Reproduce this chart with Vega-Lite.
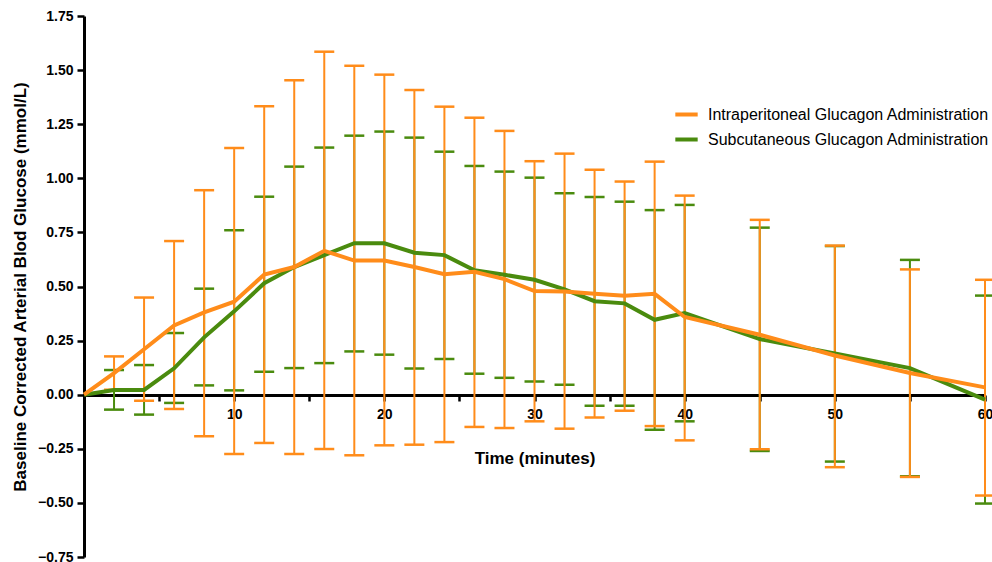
{
  "$schema": "https://vega.github.io/schema/vega-lite/v6.json",
  "width": 901,
  "height": 541,
  "autosize": {"type": "none"},
  "padding": {"left": 84, "top": 16, "right": 7, "bottom": 5},
  "background": "white",
  "config": {
    "view": {"stroke": null},
    "font": "Liberation Sans",
    "tick": {"opacity": 1},
    "axis": {"grid": false, "domainColor": "black", "tickColor": "black", "labelColor": "black", "titleColor": "black", "labelFont": "Liberation Sans", "titleFont": "Liberation Sans", "labelFontWeight": "bold", "titleFontWeight": "bold"}
  },
  "data": {
    "values": [
      {"group": "Intraperitoneal Glucagon Administration", "time": 0, "mean": 0, "lower": null, "upper": null},
      {"group": "Intraperitoneal Glucagon Administration", "time": 2, "mean": 0.10, "lower": 0.023, "upper": 0.177},
      {"group": "Intraperitoneal Glucagon Administration", "time": 4, "mean": 0.21, "lower": -0.028, "upper": 0.449},
      {"group": "Intraperitoneal Glucagon Administration", "time": 6, "mean": 0.32, "lower": -0.066, "upper": 0.71},
      {"group": "Intraperitoneal Glucagon Administration", "time": 8, "mean": 0.38, "lower": -0.192, "upper": 0.945},
      {"group": "Intraperitoneal Glucagon Administration", "time": 10, "mean": 0.43, "lower": -0.274, "upper": 1.14},
      {"group": "Intraperitoneal Glucagon Administration", "time": 12, "mean": 0.555, "lower": -0.223, "upper": 1.333},
      {"group": "Intraperitoneal Glucagon Administration", "time": 14, "mean": 0.59, "lower": -0.274, "upper": 1.453},
      {"group": "Intraperitoneal Glucagon Administration", "time": 16, "mean": 0.665, "lower": -0.251, "upper": 1.585},
      {"group": "Intraperitoneal Glucagon Administration", "time": 18, "mean": 0.62, "lower": -0.28, "upper": 1.52},
      {"group": "Intraperitoneal Glucagon Administration", "time": 20, "mean": 0.62, "lower": -0.234, "upper": 1.479},
      {"group": "Intraperitoneal Glucagon Administration", "time": 22, "mean": 0.59, "lower": -0.231, "upper": 1.408},
      {"group": "Intraperitoneal Glucagon Administration", "time": 24, "mean": 0.557, "lower": -0.219, "upper": 1.331},
      {"group": "Intraperitoneal Glucagon Administration", "time": 26, "mean": 0.568, "lower": -0.149, "upper": 1.28},
      {"group": "Intraperitoneal Glucagon Administration", "time": 28, "mean": 0.534, "lower": -0.154, "upper": 1.219},
      {"group": "Intraperitoneal Glucagon Administration", "time": 30, "mean": 0.479, "lower": -0.123, "upper": 1.079},
      {"group": "Intraperitoneal Glucagon Administration", "time": 32, "mean": 0.477, "lower": -0.157, "upper": 1.114},
      {"group": "Intraperitoneal Glucagon Administration", "time": 34, "mean": 0.466, "lower": -0.105, "upper": 1.039},
      {"group": "Intraperitoneal Glucagon Administration", "time": 36, "mean": 0.457, "lower": -0.074, "upper": 0.985},
      {"group": "Intraperitoneal Glucagon Administration", "time": 38, "mean": 0.466, "lower": -0.145, "upper": 1.077},
      {"group": "Intraperitoneal Glucagon Administration", "time": 40, "mean": 0.359, "lower": -0.211, "upper": 0.92},
      {"group": "Intraperitoneal Glucagon Administration", "time": 45, "mean": 0.277, "lower": -0.252, "upper": 0.808},
      {"group": "Intraperitoneal Glucagon Administration", "time": 50, "mean": 0.181, "lower": -0.335, "upper": 0.689},
      {"group": "Intraperitoneal Glucagon Administration", "time": 55, "mean": 0.10, "lower": -0.38, "upper": 0.579},
      {"group": "Intraperitoneal Glucagon Administration", "time": 60, "mean": 0.034, "lower": -0.466, "upper": 0.531},
      {"group": "Subcutaneous Glucagon Administration", "time": 0, "mean": 0, "lower": null, "upper": null},
      {"group": "Subcutaneous Glucagon Administration", "time": 2, "mean": 0.022, "lower": -0.069, "upper": 0.114},
      {"group": "Subcutaneous Glucagon Administration", "time": 4, "mean": 0.022, "lower": -0.092, "upper": 0.137},
      {"group": "Subcutaneous Glucagon Administration", "time": 6, "mean": 0.122, "lower": -0.038, "upper": 0.285},
      {"group": "Subcutaneous Glucagon Administration", "time": 8, "mean": 0.265, "lower": 0.043, "upper": 0.49},
      {"group": "Subcutaneous Glucagon Administration", "time": 10, "mean": 0.385, "lower": 0.02, "upper": 0.76},
      {"group": "Subcutaneous Glucagon Administration", "time": 12, "mean": 0.515, "lower": 0.106, "upper": 0.915},
      {"group": "Subcutaneous Glucagon Administration", "time": 14, "mean": 0.59, "lower": 0.123, "upper": 1.054},
      {"group": "Subcutaneous Glucagon Administration", "time": 16, "mean": 0.645, "lower": 0.146, "upper": 1.142},
      {"group": "Subcutaneous Glucagon Administration", "time": 18, "mean": 0.70, "lower": 0.2, "upper": 1.197},
      {"group": "Subcutaneous Glucagon Administration", "time": 20, "mean": 0.70, "lower": 0.185, "upper": 1.216},
      {"group": "Subcutaneous Glucagon Administration", "time": 22, "mean": 0.656, "lower": 0.121, "upper": 1.188},
      {"group": "Subcutaneous Glucagon Administration", "time": 24, "mean": 0.645, "lower": 0.165, "upper": 1.123},
      {"group": "Subcutaneous Glucagon Administration", "time": 26, "mean": 0.575, "lower": 0.097, "upper": 1.057},
      {"group": "Subcutaneous Glucagon Administration", "time": 28, "mean": 0.554, "lower": 0.078, "upper": 1.031},
      {"group": "Subcutaneous Glucagon Administration", "time": 30, "mean": 0.531, "lower": 0.061, "upper": 1.003},
      {"group": "Subcutaneous Glucagon Administration", "time": 32, "mean": 0.487, "lower": 0.046, "upper": 0.931},
      {"group": "Subcutaneous Glucagon Administration", "time": 34, "mean": 0.432, "lower": -0.051, "upper": 0.914},
      {"group": "Subcutaneous Glucagon Administration", "time": 36, "mean": 0.422, "lower": -0.051, "upper": 0.892},
      {"group": "Subcutaneous Glucagon Administration", "time": 38, "mean": 0.346, "lower": -0.162, "upper": 0.853},
      {"group": "Subcutaneous Glucagon Administration", "time": 40, "mean": 0.377, "lower": -0.123, "upper": 0.877},
      {"group": "Subcutaneous Glucagon Administration", "time": 45, "mean": 0.257, "lower": -0.26, "upper": 0.772},
      {"group": "Subcutaneous Glucagon Administration", "time": 50, "mean": 0.19, "lower": -0.309, "upper": 0.687},
      {"group": "Subcutaneous Glucagon Administration", "time": 55, "mean": 0.123, "lower": -0.377, "upper": 0.623},
      {"group": "Subcutaneous Glucagon Administration", "time": 60, "mean": -0.023, "lower": -0.503, "upper": 0.458}
    ]
  },
  "encoding": {
    "x": {
      "field": "time", "type": "quantitative",
      "scale": {"domain": [0, 60], "nice": false, "zero": false},
      "axis": {
        "title": "Time (minutes)", "titleFontSize": 17, "titlePadding": 29,
        "values": [5, 10, 15, 20, 25, 30, 35, 40, 45, 50, 55, 60],
        "labelExpr": "datum.value % 10 == 0 ? datum.label : ''",
        "labelFontSize": 14, "labelPadding": 6, "tickSize": 6, "tickWidth": 2.5,
        "domainWidth": 3, "offset": -162, "labelFlush": false, "labelOverlap": false
      }
    },
    "color": {
      "field": "group", "type": "nominal",
      "scale": {"domain": ["Intraperitoneal Glucagon Administration", "Subcutaneous Glucagon Administration"], "range": ["#FF8C1A", "#4A8B0E"]}
    }
  },
  "layer": [
    {
      "transform": [{"filter": "datum.group == 'Subcutaneous Glucagon Administration' && isValid(datum.lower)"}],
      "mark": {"type": "rule", "strokeWidth": 2},
      "encoding": {
        "y": {"field": "lower", "type": "quantitative"},
        "y2": {"field": "upper"}
      }
    },
    {
      "transform": [{"filter": "datum.group == 'Subcutaneous Glucagon Administration' && isValid(datum.lower)"}],
      "mark": {"type": "tick", "orient": "horizontal", "size": 20, "thickness": 2.5, "opacity": 1},
      "encoding": {"y": {"field": "lower", "type": "quantitative"}}
    },
    {
      "transform": [{"filter": "datum.group == 'Subcutaneous Glucagon Administration' && isValid(datum.upper)"}],
      "mark": {"type": "tick", "orient": "horizontal", "size": 20, "thickness": 2.5, "opacity": 1},
      "encoding": {"y": {"field": "upper", "type": "quantitative"}}
    },
    {
      "transform": [{"filter": "datum.group == 'Intraperitoneal Glucagon Administration' && isValid(datum.lower)"}],
      "mark": {"type": "rule", "strokeWidth": 2},
      "encoding": {
        "y": {"field": "lower", "type": "quantitative"},
        "y2": {"field": "upper"}
      }
    },
    {
      "transform": [{"filter": "datum.group == 'Intraperitoneal Glucagon Administration' && isValid(datum.lower)"}],
      "mark": {"type": "tick", "orient": "horizontal", "size": 20, "thickness": 2.5, "opacity": 1},
      "encoding": {"y": {"field": "lower", "type": "quantitative"}}
    },
    {
      "transform": [{"filter": "datum.group == 'Intraperitoneal Glucagon Administration' && isValid(datum.upper)"}],
      "mark": {"type": "tick", "orient": "horizontal", "size": 20, "thickness": 2.5, "opacity": 1},
      "encoding": {"y": {"field": "upper", "type": "quantitative"}}
    },
    {
      "transform": [{"filter": "datum.group == 'Subcutaneous Glucagon Administration'"}],
      "mark": {"type": "line", "strokeWidth": 4},
      "encoding": {"y": {"field": "mean", "type": "quantitative"}}
    },
    {
      "transform": [{"filter": "datum.group == 'Intraperitoneal Glucagon Administration'"}],
      "mark": {"type": "line", "strokeWidth": 4},
      "encoding": {
        "y": {
          "field": "mean", "type": "quantitative",
          "scale": {"domain": [-0.75, 1.75], "nice": false, "zero": false},
          "axis": {
            "title": "Baseline Corrected Arterial Blod Glucose (mmol/L)", "titleFontSize": 17, "titlePadding": 8,
            "values": [-0.75, -0.5, -0.25, 0, 0.25, 0.5, 0.75, 1, 1.25, 1.5, 1.75],
            "format": ".2f", "labelFontSize": 14, "labelPadding": 4, "tickSize": 7, "tickWidth": 2.5,
            "domainWidth": 3, "labelFlush": false, "labelOverlap": false
          }
        },
        "color": {
          "field": "group", "type": "nominal",
          "legend": {
            "title": null, "orient": "none", "legendX": 589, "legendY": 85,
            "symbolType": "stroke", "symbolSize": 500, "symbolStrokeWidth": 4,
            "labelFont": "Liberation Sans", "labelFontSize": 16, "labelColor": "black", "labelLimit": 400,
            "labelOffset": 8, "rowPadding": 3
          }
        }
      }
    }
  ],
  "resolve": {"scale": {"y": "shared"}}
}
